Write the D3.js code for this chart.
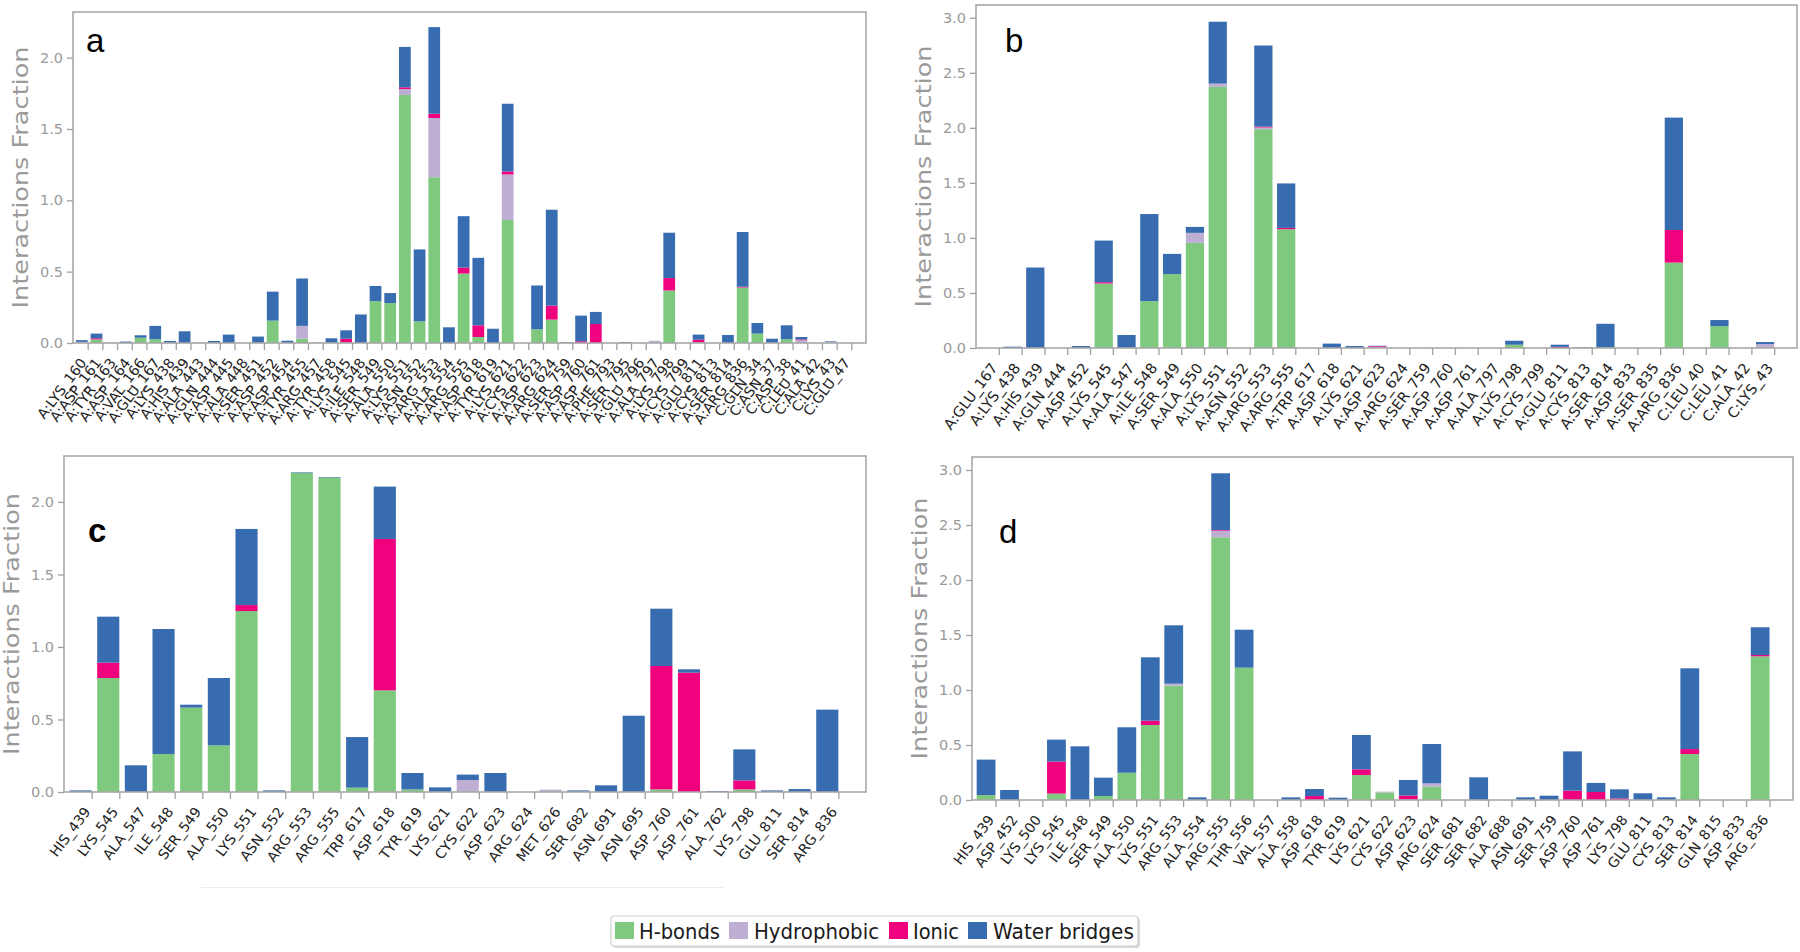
<!DOCTYPE html>
<html><head><meta charset="utf-8">
<script src="https://cdn.jsdelivr.net/npm/d3@7"></script>
<style>
html,body{margin:0;padding:0;background:#fff;}
svg{display:block;}
</style></head>
<body>
<svg id="chart" width="1800" height="952"></svg>
<script>
// ---------------- DATA ----------------
const seriesNames = ["H-bonds","Hydrophobic","Ionic","Water bridges"];
const seriesColors = ["#7fc97f","#beaed4","#f0027f","#386cb0"];

const aResidues = ["A:LYS_160","A:ASP_161","A:TYR_163","A:ASP_164","A:VAL_166","A:GLU_167","A:LYS_438","A:HIS_439","A:ALA_443","A:GLN_444","A:ASP_445","A:ALA_448","A:SER_451","A:ASP_452","A:ASP_454","A:TYR_455","A:ARG_457","A:TYR_458","A:LYS_545","A:ILE_548","A:SER_549","A:ALA_550","A:LYS_551","A:ASN_552","A:ARG_553","A:ALA_554","A:ARG_555","A:ASP_618","A:TYR_619","A:LYS_621","A:CYS_622","A:ASP_623","A:ARG_624","A:SER_759","A:ASP_760","A:ASP_761","A:PHE_793","A:SER_795","A:GLU_796","A:ALA_797","A:LYS_798","A:CYS_799","A:GLU_811","A:CYS_813","A:SER_814","A:ARG_836","C:GLN_34","C:ASN_37","C:ASP_38","C:LEU_41","C:ALA_42","C:LYS_43","C:GLU_47"];
const aHbonds = [0,0.025,0,0,0.037,0.026,0,0,0,0, 0,0,0,0.157,0,0.03,0,0,0.005,0, 0.293,0.28,1.738,0.152,1.162,0,0.487,0.042,0,0.862, 0,0.096,0.164,0,0,0,0,0,0,0, 0.368,0,0.005,0,0,0.389,0.066,0,0.026,0, 0,0,0];
const aHydrophobic = [0.008,0,0.003,0,0,0,0,0,0.005,0, 0,0,0,0,0,0.09,0.007,0,0,0, 0,0,0.042,0,0.415,0,0,0,0,0.319, 0,0,0,0,0,0,0,0,0,0.016, 0,0,0,0,0,0,0,0,0,0.02, 0,0.008,0];
const aIonic = [0,0.008,0,0,0,0,0,0,0,0, 0,0,0,0,0,0,0,0,0.025,0, 0,0,0.012,0,0.03,0,0.042,0.082,0,0.021, 0,0,0.098,0,0.012,0.133,0,0,0,0, 0.087,0,0.018,0,0,0.005,0,0,0,0.005, 0,0,0];
const aWater = [0.012,0.033,0,0.01,0.017,0.094,0.014,0.082,0,0.014, 0.059,0,0.045,0.203,0.016,0.332,0,0.033,0.059,0.2, 0.107,0.07,0.283,0.504,0.607,0.11,0.36,0.473,0.1,0.475, 0,0.307,0.672,0.005,0.18,0.085,0,0.007,0,0, 0.318,0,0.036,0,0.056,0.384,0.074,0.03,0.098,0.017, 0,0.004,0];

const bResidues = ["A:GLU_167","A:LYS_438","A:HIS_439","A:GLN_444","A:ASP_452","A:LYS_545","A:ALA_547","A:ILE_548","A:SER_549","A:ALA_550","A:LYS_551","A:ASN_552","A:ARG_553","A:ARG_555","A:TRP_617","A:ASP_618","A:LYS_621","A:ASP_623","A:ARG_624","A:SER_759","A:ASP_760","A:ASP_761","A:ALA_797","A:LYS_798","A:CYS_799","A:GLU_811","A:CYS_813","A:SER_814","A:ASP_833","A:SER_835","A:ARG_836","C:LEU_40","C:LEU_41","C:ALA_42","C:LYS_43"];
const bHbonds = [0,0,0,0,0,0.586,0,0.426,0.671,0.955, 2.372,0,1.988,1.079,0,0,0,0,0,0, 0,0,0,0.03,0,0,0,0.005,0,0, 0.776,0,0.199,0,0];
const bHydrophobic = [0,0,0,0,0,0,0,0,0,0.091, 0.03,0,0.015,0,0,0,0,0.008,0,0, 0,0,0,0,0,0,0.004,0,0,0, 0,0,0,0,0.036];
const bIonic = [0,0,0,0,0,0.012,0,0,0,0, 0,0,0.008,0.012,0,0,0,0.008,0,0, 0,0,0,0,0,0.01,0,0,0,0, 0.296,0,0,0,0];
const bWater = [0,0.012,0.731,0,0.018,0.378,0.118,0.791,0.184,0.054, 0.562,0,0.737,0.404,0,0.04,0.018,0.004,0,0, 0,0,0,0.036,0,0.02,0.005,0.215,0,0, 1.021,0,0.055,0,0.018];

const cResidues = ["HIS_439","LYS_545","ALA_547","ILE_548","SER_549","ALA_550","LYS_551","ASN_552","ARG_553","ARG_555","TRP_617","ASP_618","TYR_619","LYS_621","CYS_622","ASP_623","ARG_624","MET_626","SER_682","ASN_691","ASN_695","ASP_760","ASP_761","ALA_762","LYS_798","GLU_811","SER_814","ARG_836"];
const cHbonds = [0,0.786,0,0.262,0.582,0.322,1.248,0,2.2,2.168, 0.03,0.701,0.018,0,0.005,0,0,0,0,0, 0,0.018,0,0,0.018,0,0,0];
const cHydrophobic = [0,0,0,0,0,0,0,0,0,0, 0,0,0,0,0.078,0,0,0.016,0,0, 0,0,0,0,0,0,0,0];
const cIonic = [0,0.106,0,0,0,0,0.041,0,0,0, 0,1.044,0,0,0,0,0,0,0,0, 0,0.851,0.823,0,0.062,0,0,0];
const cWater = [0.011,0.317,0.184,0.862,0.02,0.464,0.525,0.011,0.004,0.004, 0.349,0.361,0.113,0.032,0.037,0.131,0,0,0.011,0.046, 0.526,0.395,0.023,0.007,0.214,0.011,0.02,0.568];

const dResidues = ["HIS_439","ASP_452","LYS_500","LYS_545","ILE_548","SER_549","ALA_550","LYS_551","ARG_553","ALA_554","ARG_555","THR_556","VAL_557","ALA_558","ASP_618","TYR_619","LYS_621","CYS_622","ASP_623","ARG_624","SER_681","SER_682","ALA_688","ASN_691","SER_759","ASP_760","ASP_761","LYS_798","GLU_811","CYS_813","SER_814","GLN_815","ASP_833","ARG_836"];
const dHbonds = [0.045,0,0,0.058,0,0.036,0.248,0.682,1.039,0, 2.388,1.203,0,0,0,0,0.227,0.068,0.005,0.121, 0,0,0,0,0,0,0,0,0,0, 0.418,0,0,1.306];
const dHydrophobic = [0,0,0,0,0,0,0,0,0.018,0, 0.06,0,0,0,0,0,0,0.008,0,0.03, 0,0,0,0,0,0,0,0,0,0, 0,0,0,0];
const dIonic = [0,0,0,0.291,0,0,0,0.039,0,0, 0.006,0,0,0,0.036,0,0.052,0,0.036,0, 0,0,0,0,0,0.085,0.073,0.015,0,0, 0.045,0,0,0.012];
const dWater = [0.322,0.091,0,0.2,0.488,0.167,0.413,0.576,0.531,0.024, 0.516,0.345,0,0.024,0.064,0.021,0.312,0,0.141,0.358, 0,0.206,0,0.024,0.039,0.357,0.082,0.082,0.061,0.024, 0.734,0,0,0.252];

const aTicks = [0,0.5,1.0,1.5,2.0];
const bTicks = [0,0.5,1.0,1.5,2.0,2.5,3.0];
const cTicks = [0,0.5,1.0,1.5,2.0];
const dTicks = [0,0.5,1.0,1.5,2.0,2.5,3.0];

// ---------------- DRAW ----------------
const svg = d3.select("#chart");
const FONT = "DejaVu Sans, Verdana, sans-serif";

const panels = [
  {letter:"a", bold:false, res:aResidues, s:[aHbonds,aHydrophobic,aIonic,aWater], ticks:aTicks, ymax:2.32,
   box:{l:73,r:866,t:12,b:343}, lab:{x:86,y:52}, fs:14},
  {letter:"b", bold:false, res:bResidues, s:[bHbonds,bHydrophobic,bIonic,bWater], ticks:bTicks, ymax:3.116,
   box:{l:976,r:1797,t:5,b:348}, lab:{x:1005,y:52}, fs:14.5},
  {letter:"c", bold:true, res:cResidues, s:[cHbonds,cHydrophobic,cIonic,cWater], ticks:cTicks, ymax:2.317,
   box:{l:64,r:866,t:456,b:792}, lab:{x:88,y:542}, fs:14},
  {letter:"d", bold:false, res:dResidues, s:[dHbonds,dHydrophobic,dIonic,dWater], ticks:dTicks, ymax:3.118,
   box:{l:972,r:1793,t:457,b:800}, lab:{x:999,y:543}, fs:14}
];

panels.forEach(p => {
  const n = p.res.length;
  const B = p.box;
  const x = d3.scaleLinear().domain([-1, n]).range([B.l, B.r]);
  const y = d3.scaleLinear().domain([0, p.ymax]).range([B.b, B.t]);
  const step = x(1) - x(0);
  const bw = step * 0.8;

  const rows = p.res.map((r, i) => ({res:r, i:i, hb:p.s[0][i], hp:p.s[1][i], ion:p.s[2][i], wb:p.s[3][i]}));
  const keys = ["hb","hp","ion","wb"];
  const stacked = d3.stack().keys(keys)(rows);

  const g = svg.append("g");

  // bars
  stacked.forEach((layer, k) => {
    g.append("g").attr("fill", seriesColors[k])
      .selectAll("rect").data(layer.filter(d => d[1] - d[0] > 0)).join("rect")
      .attr("x", d => x(d.data.i) - bw)
      .attr("width", bw)
      .attr("y", d => y(d[1]))
      .attr("height", d => Math.max(0, y(d[0]) - y(d[1])));
  });

  // frame
  g.append("rect").attr("x", B.l).attr("y", B.t).attr("width", B.r - B.l).attr("height", B.b - B.t)
    .attr("fill", "none").attr("stroke", "#a8a8a8").attr("stroke-width", 1.6);

  // y axis
  const ya = g.append("g").attr("transform", `translate(${B.l},0)`)
    .call(d3.axisLeft(y).tickValues(p.ticks).tickFormat(d3.format(".1f")).tickSize(6).tickPadding(4));
  ya.select(".domain").remove();
  ya.selectAll("line").attr("stroke", "#a0a0a0").attr("stroke-width", 1.3);
  ya.selectAll("text").attr("fill", "#9a9a9a").style("font-family", FONT).style("font-size", "14.5px");

  // x axis
  const xa = g.append("g").attr("transform", `translate(0,${B.b})`)
    .call(d3.axisBottom(x).tickValues(d3.range(n)).tickFormat(i => p.res[i]).tickSize(7));
  xa.select(".domain").remove();
  xa.selectAll("line").attr("stroke", "#a0a0a0").attr("stroke-width", 1.3);
  xa.selectAll("text")
    .attr("x", -1).attr("y", 20).attr("dy", 0)
    .attr("transform", "rotate(-53,-1,20)")
    .attr("text-anchor", "end")
    .attr("fill", "#222")
    .style("font-family", FONT).style("font-size", p.fs + "px");

  // y title
  const cy = (B.t + B.b) / 2, cx = B.l - 52;
  g.append("text").attr("transform", `translate(${cx},${cy}) rotate(-90)`)
    .attr("text-anchor", "middle").attr("dy", "0.35em")
    .attr("textLength", 262).attr("lengthAdjust", "spacingAndGlyphs")
    .attr("fill", "#9a9a9a").style("font-family", FONT).style("font-size", "21px")
    .text("Interactions Fraction");

  // panel letter
  g.append("text").attr("x", p.lab.x).attr("y", p.lab.y)
    .attr("fill", "#000").style("font-family", "Liberation Sans, Arial, sans-serif")
    .style("font-size", "33px").style("font-weight", p.bold ? "bold" : "normal")
    .text(p.letter);
});

// faint stray line under panel c
svg.append("line").attr("x1", 201).attr("x2", 723).attr("y1", 887.5).attr("y2", 887.5)
  .attr("stroke", "#ececec").attr("stroke-width", 1);

// legend
const lg = svg.append("g");
lg.append("rect").attr("x", 613).attr("y", 918).attr("width", 527).attr("height", 30)
  .attr("rx", 3).attr("fill", "#d8d8d8");
lg.append("rect").attr("x", 611).attr("y", 916).attr("width", 527).attr("height", 30)
  .attr("rx", 3).attr("fill", "#fff").attr("stroke", "#cfcfcf").attr("stroke-width", 1.2);
const legItems = [
  {sq:615, tx:639, len:81},
  {sq:729, tx:754, len:125},
  {sq:889, tx:913, len:46},
  {sq:968, tx:993, len:141}
];
seriesNames.forEach((name, k) => {
  const it = legItems[k];
  lg.append("rect").attr("x", it.sq).attr("y", 922).attr("width", 19).attr("height", 17).attr("fill", seriesColors[k]);
  lg.append("text").attr("x", it.tx).attr("y", 938.5)
    .attr("textLength", it.len).attr("lengthAdjust", "spacingAndGlyphs")
    .attr("fill", "#1a1a1a").style("font-family", FONT).style("font-size", "22px")
    .text(name);
});
</script>
</body></html>
